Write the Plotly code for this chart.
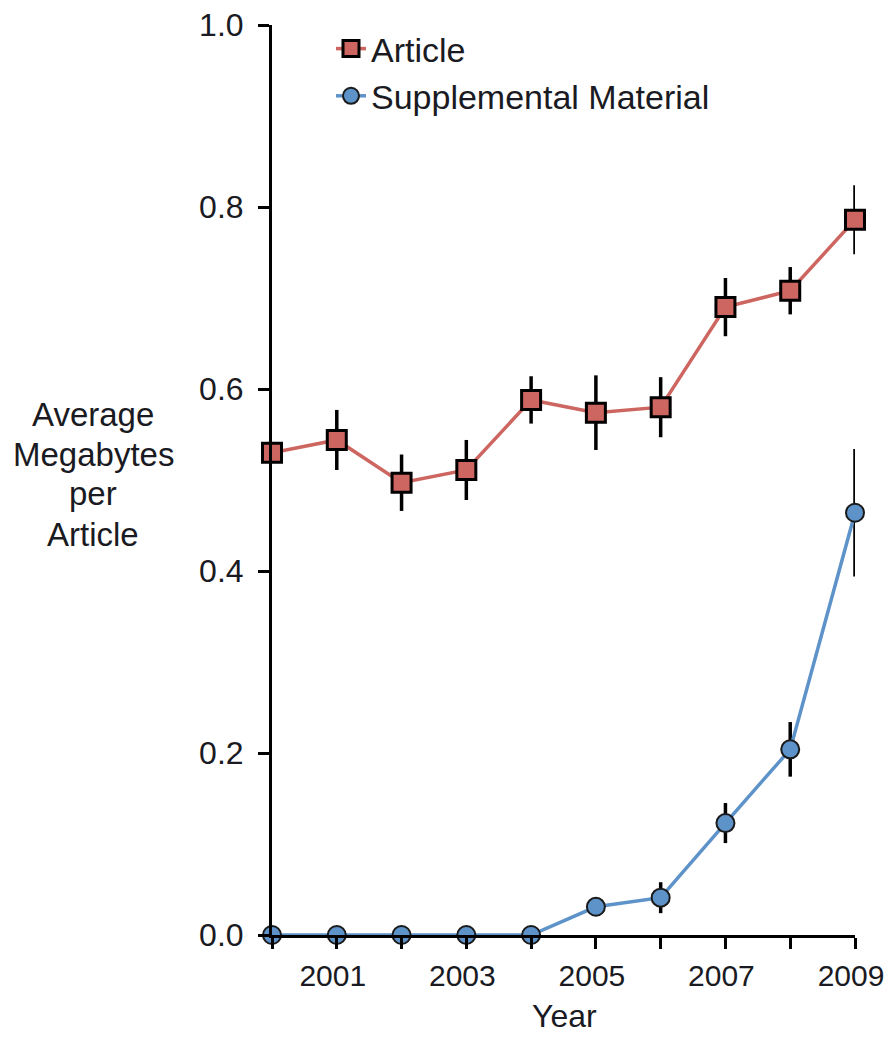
import plotly.graph_objects as go

years = [2000, 2001, 2002, 2003, 2004, 2005, 2006, 2007, 2008, 2009]
article = [0.530, 0.544, 0.497, 0.511, 0.588, 0.574, 0.580, 0.690, 0.708, 0.786]
article_err = [0.008, 0.033, 0.031, 0.033, 0.026, 0.041, 0.033, 0.032, 0.026, 0.038]
supp = [0.0, 0.0, 0.0, 0.0, 0.0, 0.031, 0.041, 0.123, 0.204, 0.464]
supp_err = [0.0, 0.0, 0.0, 0.0, 0.0, 0.005, 0.017, 0.022, 0.030, 0.070]
x_tickvals = [2000, 2001, 2002, 2003, 2004, 2005, 2006, 2007, 2008, 2009]
x_ticktext = ["", "2001", "", "2003", "", "2005", "", "2007", "", "2009"]
y_tickvals = [0.0, 0.2, 0.4, 0.6, 0.8, 1.0]
ytitle_lines = ["Average", "Megabytes", "per", "Article"]

RED = "#CD6660"
BLUE = "#5E93C9"
TXT = "#1a1a22"
FONT = "Liberation Sans, Arial, sans-serif"

# page has an 8px body margin; plot area should span page x 272..855, y 25..935
W, H = 878, 1030
L, T = 264, 17
R, B = W - 847, H - 927
PW, PH = 847 - L, 927 - T

def px_x(page_x):
    return (page_x - 8 - L) / PW

def px_y(page_y):
    return (927 - (page_y - 8)) / PH

fig = go.Figure()
fig.add_trace(go.Scatter(
    x=years, y=supp, name="Supplemental Material", mode="lines+markers",
    line=dict(color=BLUE, width=3.5),
    marker=dict(symbol="circle", size=18, color=BLUE, line=dict(color="#1a1a1a", width=2)),
    error_y=dict(type="data", array=supp_err, color="black", thickness=3.5, width=0),
    cliponaxis=False,
))
fig.add_trace(go.Scatter(
    x=years, y=article, name="Article", mode="lines+markers",
    line=dict(color=RED, width=3.5),
    marker=dict(symbol="square", size=19, color=RED, line=dict(color="black", width=3)),
    error_y=dict(type="data", array=article_err, color="black", thickness=3.5, width=0),
    cliponaxis=False,
))

annotations = []
centers_px = [414, 454, 494, 534]
for txt, cy in zip(ytitle_lines, centers_px):
    annotations.append(dict(
        text=txt, xref="paper", yref="paper",
        x=px_x(93), y=px_y(cy),
        xanchor="center", yanchor="middle", showarrow=False,
        font=dict(size=33, color=TXT),
    ))
annotations.append(dict(
    text="Year", xref="paper", yref="paper",
    x=px_x(564), y=px_y(1016),
    xanchor="center", yanchor="middle", showarrow=False,
    font=dict(size=32, color=TXT),
))

fig.update_layout(
    width=W, height=H,
    margin=dict(l=L, r=R, t=T, b=B),
    paper_bgcolor="white", plot_bgcolor="white",
    font=dict(family=FONT, size=32, color=TXT),
    showlegend=True,
    legend=dict(x=px_x(331), y=px_y(20), xanchor="left", yanchor="top",
                traceorder="reversed", bgcolor="rgba(0,0,0,0)",
                font=dict(size=34, color=TXT), tracegroupgap=0),
    xaxis=dict(range=[2000, 2009], tickvals=x_tickvals, ticktext=x_ticktext,
               showgrid=False, zeroline=False, showline=True, linecolor="black",
               linewidth=3, ticks="outside", ticklen=11, tickwidth=3, tickcolor="black",
               tickfont=dict(size=30, color=TXT), ticklabelstandoff=1, ticklabelshift=-4,
               automargin=False, ticklabeloverflow="allow"),
    yaxis=dict(range=[0, 1], tickvals=y_tickvals, tickformat=".1f",
               showgrid=False, zeroline=False, showline=True, linecolor="black",
               linewidth=3, ticks="outside", ticklen=11, tickwidth=3, tickcolor="black",
               tickfont=dict(size=32, color=TXT), ticklabelstandoff=8,
               automargin=False, ticklabeloverflow="allow"),
    annotations=annotations,
)

fig.write_html("out.html")
